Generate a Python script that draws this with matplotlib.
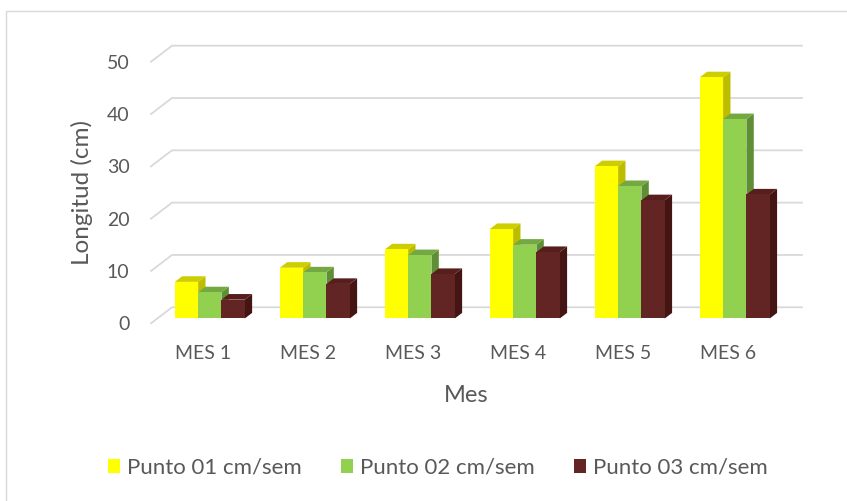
import matplotlib
matplotlib.use("Agg")
import matplotlib.pyplot as plt
from matplotlib.patches import Polygon, Patch, Rectangle

plt.rcParams['font.family'] = ['Lato', 'DejaVu Sans']

meses = ["MES 1", "MES 2", "MES 3", "MES 4", "MES 5", "MES 6"]
punto_01 = [7.0, 9.7, 13.2, 17.1, 29.1, 46.1]
punto_02 = [5.0, 8.8, 12.1, 14.1, 25.3, 38.1]
punto_03 = [3.6, 6.6, 8.5, 12.7, 22.6, 23.7]
series_names = ["Punto 01 cm/sem", "Punto 02 cm/sem", "Punto 03 cm/sem"]
y_ticks = [0, 10, 20, 30, 40, 50]

# front, top, side colours of each series
colores = [
    ("#FFFF00", "#CDCD00", "#BDBD00"),
    ("#92D050", "#74A842", "#5F8F34"),
    ("#632523", "#561E1C", "#441513"),
]
text_color = "#595959"
grid_color = "#D9D9D9"

# oblique depth of the floor (x in categories, y in data units)
DX, DY = 0.2, 3.06
F0, F1 = 0.3, 0.35      # bar start depth and bar depth, as fraction of floor depth
bar_w = 0.222

fig = plt.figure(figsize=(8.47, 5.01), dpi=100)
ax = fig.add_axes([140 / 847, (501 - 335) / 501, 690 / 847, 305 / 501])
ax.set_xlim(-0.605, 5.967)
ax.set_ylim(-2.24, 56.06)

# back wall gridlines with the diagonal on the left side
for v in y_ticks:
    ax.plot([-0.5, -0.5 + DX, 5.5 + DX], [v, v + DY, v + DY],
            color=grid_color, lw=1.3, zorder=1, solid_joinstyle='miter')

data = [punto_01, punto_02, punto_03]
for i in range(len(meses)):
    for j, vals in enumerate(data):
        v = vals[i]
        x0 = i - 1.5 * bar_w + j * bar_w + F0 * DX
        y0 = F0 * DY
        dx, dy = F1 * DX, F1 * DY
        front, top, side = colores[j]
        z = 3 + j
        ax.add_patch(Polygon([(x0 + bar_w, y0), (x0 + bar_w, y0 + v),
                              (x0 + bar_w + dx, y0 + v + dy), (x0 + bar_w + dx, y0 + dy)],
                             closed=True, fc=side, ec='none', zorder=z))
        ax.add_patch(Polygon([(x0, y0 + v), (x0 + bar_w, y0 + v),
                              (x0 + bar_w + dx, y0 + v + dy), (x0 + dx, y0 + v + dy)],
                             closed=True, fc=top, ec='none', zorder=z))
        ax.add_patch(Rectangle((x0, y0), bar_w, v, fc=front, ec='none', zorder=z + 0.5))

ax.set_xticks(range(len(meses)))
ax.set_xticklabels(meses)
ax.set_yticks(y_ticks)
ax.set_yticklabels([str(t) for t in y_ticks])
ax.tick_params(axis='both', length=0, colors=text_color, labelsize=14)
ax.tick_params(axis='y', pad=7.5)
ax.tick_params(axis='x', pad=7)
for s in ax.spines.values():
    s.set_visible(False)
ax.patch.set_alpha(0)

ax.set_xlabel("Mes", fontsize=17, color=text_color, va='center')
ax.xaxis.set_label_coords(0.4725, -0.197)
ax.set_ylabel("Longitud (cm)", fontsize=17.5, color=text_color, va='center')
ax.yaxis.set_label_coords(-0.084, 0.466)

handles = [Patch(fc=c[0], ec='none') for c in colores]
fig.legend(handles, series_names, loc='center', bbox_to_anchor=(438 / 847, 1 - 468 / 501),
           ncol=3, frameon=False, fontsize=16, handlelength=0.55, handleheight=0.55,
           handletextpad=0.32, columnspacing=1.75, labelcolor=text_color)

# chart area border
fig.add_artist(Rectangle((6 / 847, -0.05), 2, 1 - 11 / 501 + 0.05, transform=fig.transFigure,
                         fill=False, ec=grid_color, lw=1))

fig.savefig("out.png", dpi=100)
